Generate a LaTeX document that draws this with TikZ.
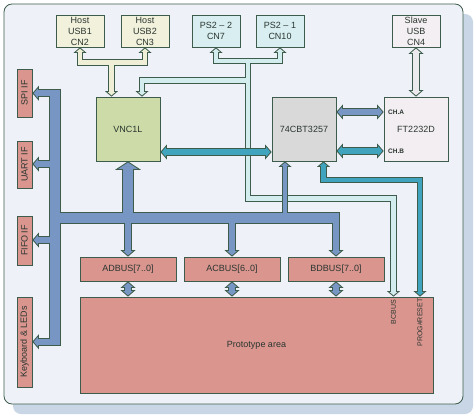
\documentclass[tikz,border=0pt]{standalone}
\usepackage{fontspec}
\setmainfont{Liberation Sans}
\usetikzlibrary{arrows.meta}

\definecolor{panel}{HTML}{EEF2F8}
\definecolor{shadowc}{HTML}{C8D6E5}
\definecolor{edge}{HTML}{3E5C4C}
\definecolor{ink}{HTML}{2A352F}
\definecolor{busblue}{HTML}{7896C3}
\definecolor{tealc}{HTML}{40A4BE}
\definecolor{cyanc}{HTML}{D3EDEF}
\definecolor{creamc}{HTML}{EEEFD6}
\definecolor{slavec}{HTML}{EDEAEE}
\definecolor{salmon}{HTML}{DA958F}
\definecolor{vncgreen}{HTML}{CCDBA7}
\definecolor{cbtgray}{HTML}{D9D9D9}
\definecolor{ftpink}{HTML}{F3EEF2}
\definecolor{hostc}{HTML}{F1F1DC}
\definecolor{ps2c}{HTML}{D8EEF1}
\definecolor{slavebox}{HTML}{F3EFF2}

\begin{document}
\begin{tikzpicture}[x=1pt, y=-1pt, line join=miter,
    box/.style={draw=edge, line width=0.7pt, text=ink, align=center, inner sep=0pt, font=\fontsize{9}{11}\selectfont},
    chip/.style={box, minimum width=64pt, minimum height=64pt},
    plug/.style={box, minimum width=48pt, minimum height=32pt},
    ifbox/.style={box, fill=salmon, minimum width=15pt},
    busbox/.style={box, fill=salmon, minimum width=96pt, minimum height=24pt},
    tag/.style={text=ink, inner sep=0pt, font=\fontsize{7}{8}\selectfont},
    chtag/.style={tag, anchor=west, font=\bfseries\fontsize{6.5}{8}\selectfont},
    % pass 0 draws the outline, pass 1 the fill of the wide connectors
    trunk0/.style={draw=edge, line width=12pt},
    trunk1/.style={line width=10pt, shorten <=1pt, shorten >=1pt},
    big0/.style={draw=edge, line width=12pt, >={Triangle[width=26pt, length=8.5pt, line width=0pt]}},
    big1/.style={line width=10pt, >={Triangle[width=19.3pt, length=6.31pt, line width=0pt, sep=1.19pt]}},
    mid0/.style={draw=edge, line width=8.5pt, >={Triangle[width=15pt, length=6.5pt, line width=0pt]}},
    mid1/.style={line width=6.5pt, >={Triangle[width=9.65pt, length=4.18pt, line width=0pt, sep=1.32pt]}},
    slim0/.style={draw=edge, line width=6.5pt, >={Triangle[width=13pt, length=5.5pt, line width=0pt]}},
    slim1/.style={line width=4.5pt, >={Triangle[width=7.5pt, length=3.19pt, line width=0pt, sep=1.31pt]}},
]
    \useasboundingbox (0,0) rectangle (476,417);

    % board
    \fill[shadowc, rounded corners=8pt] (13,14) rectangle (473,414);
    \draw[edge, fill=panel, line width=0.8pt, rounded corners=8pt] (4,4) rectangle (463,404);

    % connectors on top
    \node[plug, fill=hostc] (usbA) at (80,31) {Host\\USB1\\CN2};
    \node[plug, fill=hostc] (usbB) at (145,31) {Host\\USB2\\CN3};
    \node[plug, fill=ps2c] (psB) at (216,31) {PS2 – 2\\CN7};
    \node[plug, fill=ps2c] (psA) at (280,31) {PS2 – 1\\CN10};
    \node[plug, fill=slavebox] (slave) at (416,31) {Slave\\USB\\CN4};

    % chips
    \node[chip, fill=vncgreen] (vnc) at (128,129) {VNC1L};
    \node[chip, fill=cbtgray] (cbt) at (304,129) {74CBT3257};
    \node[chip, fill=ftpink] (ft) at (416,129) {FT2232D};

    % interfaces on the left
    \node[ifbox, minimum height=48pt] (spi) at (24.5,93) {\rotatebox{90}{SPI IF}};
    \node[ifbox, minimum height=47pt] (uart) at (24.5,164.5) {\rotatebox{90}{UART IF}};
    \node[ifbox, minimum height=49pt] (fifo) at (24.5,240.5) {\rotatebox{90}{FIFO IF}};
    \node[ifbox, minimum height=90pt] (keys) at (24.5,342) {\rotatebox{90}{Keyboard \& LEDs}};

    \node[busbox] (adbus) at (128,269) {ADBUS[7..0]};
    \node[busbox] (acbus) at (232,269) {ACBUS[6..0]};
    \node[busbox] (bdbus) at (336,269) {BDBUS[7..0]};
    \node[box, fill=salmon, minimum width=353pt, minimum height=96pt] (proto) at (256.5,345) {Prototype area};

    % PS/2
    \foreach \layer in {0,1} {
        \draw[draw=cyanc, slim\layer, <->] (psB.south) -- (psB.south |- 0,61) -- (psA.south |- 0,61) -- (psA.south);
        \draw[draw=cyanc, slim\layer, ->] (248,61) -- (248,198.5) -- (393.5,198.5) -- (proto.north -| 393.5,0);
        \draw[draw=cyanc, slim\layer, ->] (248,80.5) -- (142,80.5) -- (vnc.north -| 142,0);
    }

    % host USB
    \foreach \layer in {0,1} {
        \draw[draw=creamc, slim\layer, <->] (usbA.south) -- (usbA.south |- 0,62.5) -- (usbB.south |- 0,62.5) -- (usbB.south);
        \draw[draw=creamc, slim\layer, ->] (111.5,62.5) -- (vnc.north -| 111.5,0);
    }

    % slave USB
    \foreach \layer in {0,1}
        \draw[draw=slavec, mid\layer, <->] (slave.south) -- (ft.north);

    % main bus
    \foreach \layer in {0,1} {
        \draw[draw=busblue, trunk\layer] (55,89) -- (55,346);
        \draw[draw=busblue, trunk\layer] (55,218) -- (340.25,218);
        \foreach \b/\y in {spi/93.25, uart/164, fifo/240, keys/341.75}
            \draw[draw=busblue, mid\layer, ->] (55,\y) -- (\b.east |- 0,\y);
        \draw[draw=busblue, big\layer, ->] (128,218) -- (vnc.south);
        \draw[draw=busblue, slim\layer, ->] (285,218) -- (cbt.south -| 285,0);
        \foreach \b in {adbus, acbus, bdbus} {
            \draw[draw=busblue, mid\layer, ->] (\b.north |- 0,218) -- (\b.north);
            \draw[draw=busblue, mid\layer, <->] (\b.south) -- (proto.north -| \b.south);
        }
        \draw[draw=busblue, mid\layer, <->] (cbt.east |- 0,112) -- (ft.west |- 0,112);
    }

    % switched lines
    \foreach \layer in {0,1} {
        \draw[draw=tealc, mid\layer, <->] (vnc.east |- 0,152) -- (cbt.west |- 0,152);
        \draw[draw=tealc, mid\layer, <->] (cbt.east |- 0,151) -- (ft.west |- 0,151);
        \draw[draw=tealc, slim\layer, <->] (cbt.south -| 323.5,0) -- (323.5,180) -- (420,180) -- (proto.north -| 420,0);
    }

    \node[chtag] (cha) at (388,112) {CH.A};
    \node[chtag] (chb) at (388,151) {CH.B};
    \node[tag, anchor=north] (bcbus) at (393.5,300) {\rotatebox{90}{BCBUS}};
    \node[tag, anchor=north] (prog) at (420,298.5) {\rotatebox{90}{PROG\#RESET}};
\end{tikzpicture}
\end{document}
